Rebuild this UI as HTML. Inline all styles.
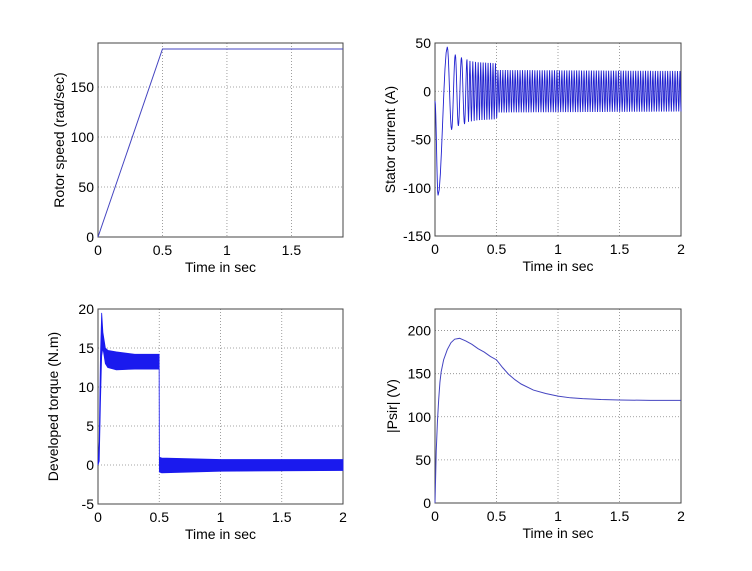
<!DOCTYPE html>
<html><head><meta charset="utf-8"><style>
body{margin:0;background:#fff;}
svg text{font-family:"Liberation Sans",sans-serif;fill:#000;}
</style></head><body>
<svg id="fig" width="752" height="566" xmlns="http://www.w3.org/2000/svg"></svg>
<script>
// Rotor speed
const speedT=[0,0.5,1.9];
const speedV=[0,188,188];
// Stator current: early peaks, then steady amplitude
const curPeakT=[0,0.025,0.1,0.135,0.165,0.19,0.215,0.24,0.26];
const curPeakV=[-10,-108,46,-40,38,-36,35,-34,33];
const curEnvT=[0.26,0.35,0.5,0.51,2];
const curEnvA=[32,30,29,22,21];
// Torque envelope
const torT=[0,0.01,0.02,0.03,0.04,0.06,0.08,0.15,0.3,0.499,0.501,0.52,1,2];
const torHi=[0,3,14,19.5,17,15,14.7,14.5,14.2,14.2,1,0.9,0.7,0.7];
const torLo=[0,0.5,8,14,15,13,12.5,12.2,12.3,12.3,-0.9,-1,-0.8,-0.7];
// Flux magnitude
const psiT=[0,0.005,0.01,0.02,0.03,0.04,0.05,0.07,0.1,0.13,0.16,0.2,0.25,0.3,0.35,0.4,0.45,0.5,0.55,0.6,0.65,0.7,0.8,0.9,1.0,1.1,1.2,1.35,1.5,1.75,2];
const psiV=[0,30,60,95,120,140,152,166,178,186,190,191,188,184,179,175,170,166,157,149,143,138,131,127,124,122,121,120,119.5,119,119];
// Ticks
const xt1=[0,0.5,1,1.5], xt2=[0,0.5,1,1.5,2];
const yt1=[0,50,100,150], yt2=[-150,-100,-50,0,50], yt3=[-5,0,5,10,15,20], yt4=[0,50,100,150,200];

const NS="http://www.w3.org/2000/svg";
const svg=document.getElementById('fig');
function mk(tag,at,parent){const e=document.createElementNS(NS,tag);for(const k in at)e.setAttribute(k,at[k]);(parent||svg).appendChild(e);return e;}
function axes(name,x0,x1,y0,y1,xmin,xmax,ymin,ymax,xt,yt,ylab,yoff){
  const g=mk('g',{});
  
  
  const sx=v=>x0+(v-xmin)/(xmax-xmin)*(x1-x0);
  const sy=v=>y1-(v-ymin)/(ymax-ymin)*(y1-y0);
  xt.forEach(v=>{const X=sx(v);
    if(v>xmin&&v<xmax){const l=mk('line',{x1:X,x2:X,y1:y0,y2:y1,stroke:'#888','stroke-width':0.8,'stroke-dasharray':'1,2'},g);}
    const t=mk('text',{x:X,y:y1+18,'font-size':14,'text-anchor':'middle'},g);t.textContent=v;
    });
  yt.forEach(v=>{const Y=sy(v);
    if(v>ymin&&v<ymax){const l=mk('line',{x1:x0,x2:x1,y1:Y,y2:Y,stroke:'#888','stroke-width':0.8,'stroke-dasharray':'1,2'},g);}
    const t=mk('text',{x:x0-4,y:Y+5,'font-size':14,'text-anchor':'end'},g);t.textContent=v;
    });
  const b=mk('rect',{x:x0,y:y0,width:x1-x0,height:y1-y0,fill:'none',stroke:'#444','stroke-width':1},g);
  
  const xl=mk('text',{x:(x0+x1)/2,y:y1+35,'font-size':14,'text-anchor':'middle'},g);xl.textContent='Time in sec';
  
  const yx=x0-yoff;
  const yl=mk('text',{x:yx,y:(y0+y1)/2,'font-size':14,'text-anchor':'middle',transform:`rotate(-90 ${yx} ${(y0+y1)/2})`},g);yl.textContent=ylab;
  
  return {g,sx,sy};
}
function path(ax,pts,name,extra){
  const d=pts.map((p,i)=>(i?'L':'M')+ax.sx(p[0]).toFixed(2)+','+ax.sy(p[1]).toFixed(2)).join('');
  const p=mk('path',Object.assign({d,fill:'none',stroke:'#2020d0','stroke-width':1},extra||{}),ax.g);
  return p;
}
function interp(T,V,t){for(let i=1;i<T.length;i++){if(t<=T[i]){const f=(t-T[i-1])/(T[i]-T[i-1]);return V[i-1]+f*(V[i]-V[i-1]);}}return V[V.length-1];}

// Plot 1
const a1=axes('plot-speed',98,343,43,237,0,1.9,0,194,xt1,yt1,'Rotor speed (rad/sec)',34);
path(a1,speedT.map((t,i)=>[t,speedV[i]]),'speed-line',{stroke:'#4444c0'});

// Plot 2
const a2=axes('plot-current',435,681,43,236,0,2,-150,50,xt2,yt2,'Stator current (A)',40);
const peaks=curPeakT.map((t,i)=>[t,curPeakV[i]]);
let sign=1,t=curPeakT[curPeakT.length-1];
while(t<2){const f=t<0.5?Math.min(50,20+t*80):50;t+=0.5/f;sign=-sign;peaks.push([Math.min(t,2),sign*interp(curEnvT,curEnvA,t)]);}
// half-cosine smoothing between peaks
const cp=[peaks[0]];
for(let i=1;i<peaks.length;i++){const [ta,va]=peaks[i-1],[tb,vb]=peaks[i];const n=(tb-ta)>0.015?8:3;
  for(let k=1;k<=n;k++){const f=k/n;cp.push([ta+(tb-ta)*f,va+(vb-va)*(1-Math.cos(Math.PI*f))/2]);}}
path(a2,cp,'current-line',{'stroke-width':0.9});

// Plot 3
const a3=axes('plot-torque',98,343,309,504,0,2,-5,20,xt2,yt3,'Developed torque (N.m)',40);
const poly=torT.map((t,i)=>[t,torHi[i]]).concat(torT.map((t,i)=>[t,torLo[i]]).reverse());
path(a3,poly,'torque-band',{fill:'#1a1aee',stroke:'#1a1aee','stroke-width':0.8});

// Plot 4
const a4=axes('plot-flux',435,681,309,503,0,2,0,225,xt2,yt4,'|Psir| (V)',38);
path(a4,psiT.map((t,i)=>[t,psiV[i]]),'flux-line',{stroke:'#4444c0'});
</script>
</body></html>
